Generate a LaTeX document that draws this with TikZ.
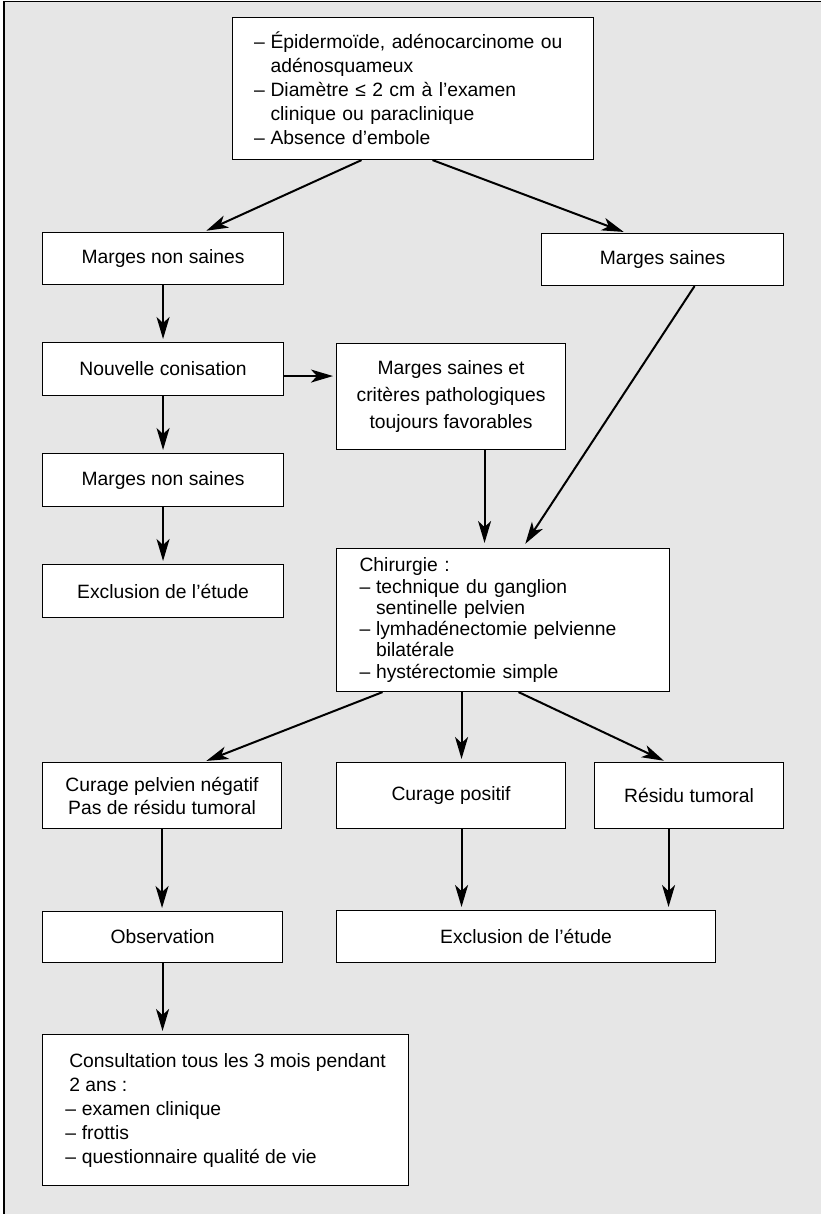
\documentclass[tikz,border=0pt]{standalone}
\usepackage{fontspec}
\setmainfont{Liberation Sans}
\usetikzlibrary{arrows.meta}
\definecolor{bg}{HTML}{E6E6E6}
\newcommand\itemdash{\makebox[16.5pt][l]{–}}
\newcommand\itemind{\hspace*{16.5pt}}
\begin{document}
\begin{tikzpicture}[x=1pt,y=-1pt,
  box/.style={draw=black,line width=1.1pt,fill=white,inner sep=0pt,anchor=north west,
    align=center,font=\fontsize{19.3}{24}\selectfont},
  arr/.style={-{Stealth[length=22pt,width=13pt,inset=6pt]},line width=2pt,shorten >=3pt}]
\useasboundingbox (0,0) rectangle (821,1214);
\fill[bg] (4,1.5) rectangle (821,1214);
\draw[line width=1.5pt] (4,1214) -- (4,1.5) -- (821,1.5);

\node[box,minimum height=142pt,text width=318pt,inner xsep=21.5pt,align=left] (top) at (232,17)
 {\itemdash Épidermoïde, adénocarcinome ou\\
  \itemind adénosquameux\\
  \itemdash Diamètre ≤ 2 cm à l’examen\\
  \itemind clinique ou paraclinique\\
  \itemdash Absence d’embole};

\node[box,minimum width=241pt,minimum height=52pt] (mns1) at (42,232) {Marges non saines};
\node[box,minimum width=242pt,minimum height=52pt] (ms) at (541,233) {Marges saines};
\node[box,minimum width=241pt,minimum height=53pt] (nc) at (42,342) {Nouvelle conisation};
\node[box,minimum width=229pt,minimum height=106pt,font=\fontsize{19.3}{26.7}\selectfont] (msc) at (336,343)
 {Marges saines et\\critères pathologiques\\toujours favorables};
\node[box,minimum width=241pt,minimum height=53pt] (mns2) at (42,453) {Marges non saines};
\node[box,minimum width=241pt,minimum height=53pt] (ex1) at (42,564) {Exclusion de l’étude};

\node[box,minimum height=143pt,text width=287pt,inner xsep=23pt,align=left,
  font=\fontsize{19.3}{21.3}\selectfont] (chir) at (336,548)
 {Chirurgie :\\
  \itemdash technique du ganglion\\
  \itemind sentinelle pelvien\\
  \itemdash lymhadénectomie pelvienne\\
  \itemind bilatérale\\
  \itemdash hystérectomie simple};

\node[box,minimum width=239pt,minimum height=66pt,font=\fontsize{19.3}{23}\selectfont] (cpn) at (42,762)
 {Curage pelvien négatif\\Pas de résidu tumoral};
\node[box,minimum width=229pt,minimum height=66pt] (cp) at (336,762) {Curage positif};
\node[box,minimum width=189pt,minimum height=66pt] (rt) at (594,762) {Résidu tumoral};

\node[box,minimum width=240pt,minimum height=51pt] (obs) at (42,911) {Observation};
\node[box,minimum width=379pt,minimum height=52pt] (ex2) at (336,910) {Exclusion de l’étude};

\node[box,minimum width=366pt,minimum height=151pt,align=left] (cons) at (42,1034)
 {\hspace*{4pt}Consultation tous les 3 mois pendant\\
  \hspace*{4pt}2 ans :\\
  \itemdash examen clinique\\
  \itemdash frottis\\
  \itemdash questionnaire qualité de vie};

% connectors
\draw[arr] ([xshift=-51.5pt]top.south) -- ([xshift=40.5pt]mns1.north);
\draw[arr] ([xshift=19.5pt]top.south) -- ([xshift=-36pt]ms.north);
\draw[arr] (mns1.south) -- (nc.north);
\draw[arr] ([yshift=-7pt]nc.east) coordinate (ncE) -- (ncE -| msc.west);
\draw[arr] (nc.south) -- (mns2.north);
\draw[arr] (mns2.south) -- (ex1.north);
\draw[arr,shorten >=5pt] ([xshift=33.5pt]msc.south) coordinate (mscS) -- (mscS |- chir.north);
\draw[arr,shorten >=5pt] ([xshift=32pt]ms.south) -- ([xshift=19.5pt]chir.north);
\draw[arr] ([xshift=-120.5pt]chir.south) -- ([xshift=41.5pt]cpn.north);
\draw[arr] ([xshift=-41.5pt]chir.south) coordinate (chS) -- (chS |- cp.north);
\draw[arr] ([xshift=15.5pt]chir.south) -- ([xshift=-22.5pt]rt.north);
\draw[arr] (cpn.south) -- (cpn.south |- obs.north);
\draw[arr] ([xshift=10.5pt]cp.south) coordinate (cpS) -- (cpS |- ex2.north);
\draw[arr] ([xshift=-20.5pt]rt.south) coordinate (rtS) -- (rtS |- ex2.north);
\draw[arr] (obs.south) -- (obs.south |- cons.north);
\end{tikzpicture}
\end{document}
